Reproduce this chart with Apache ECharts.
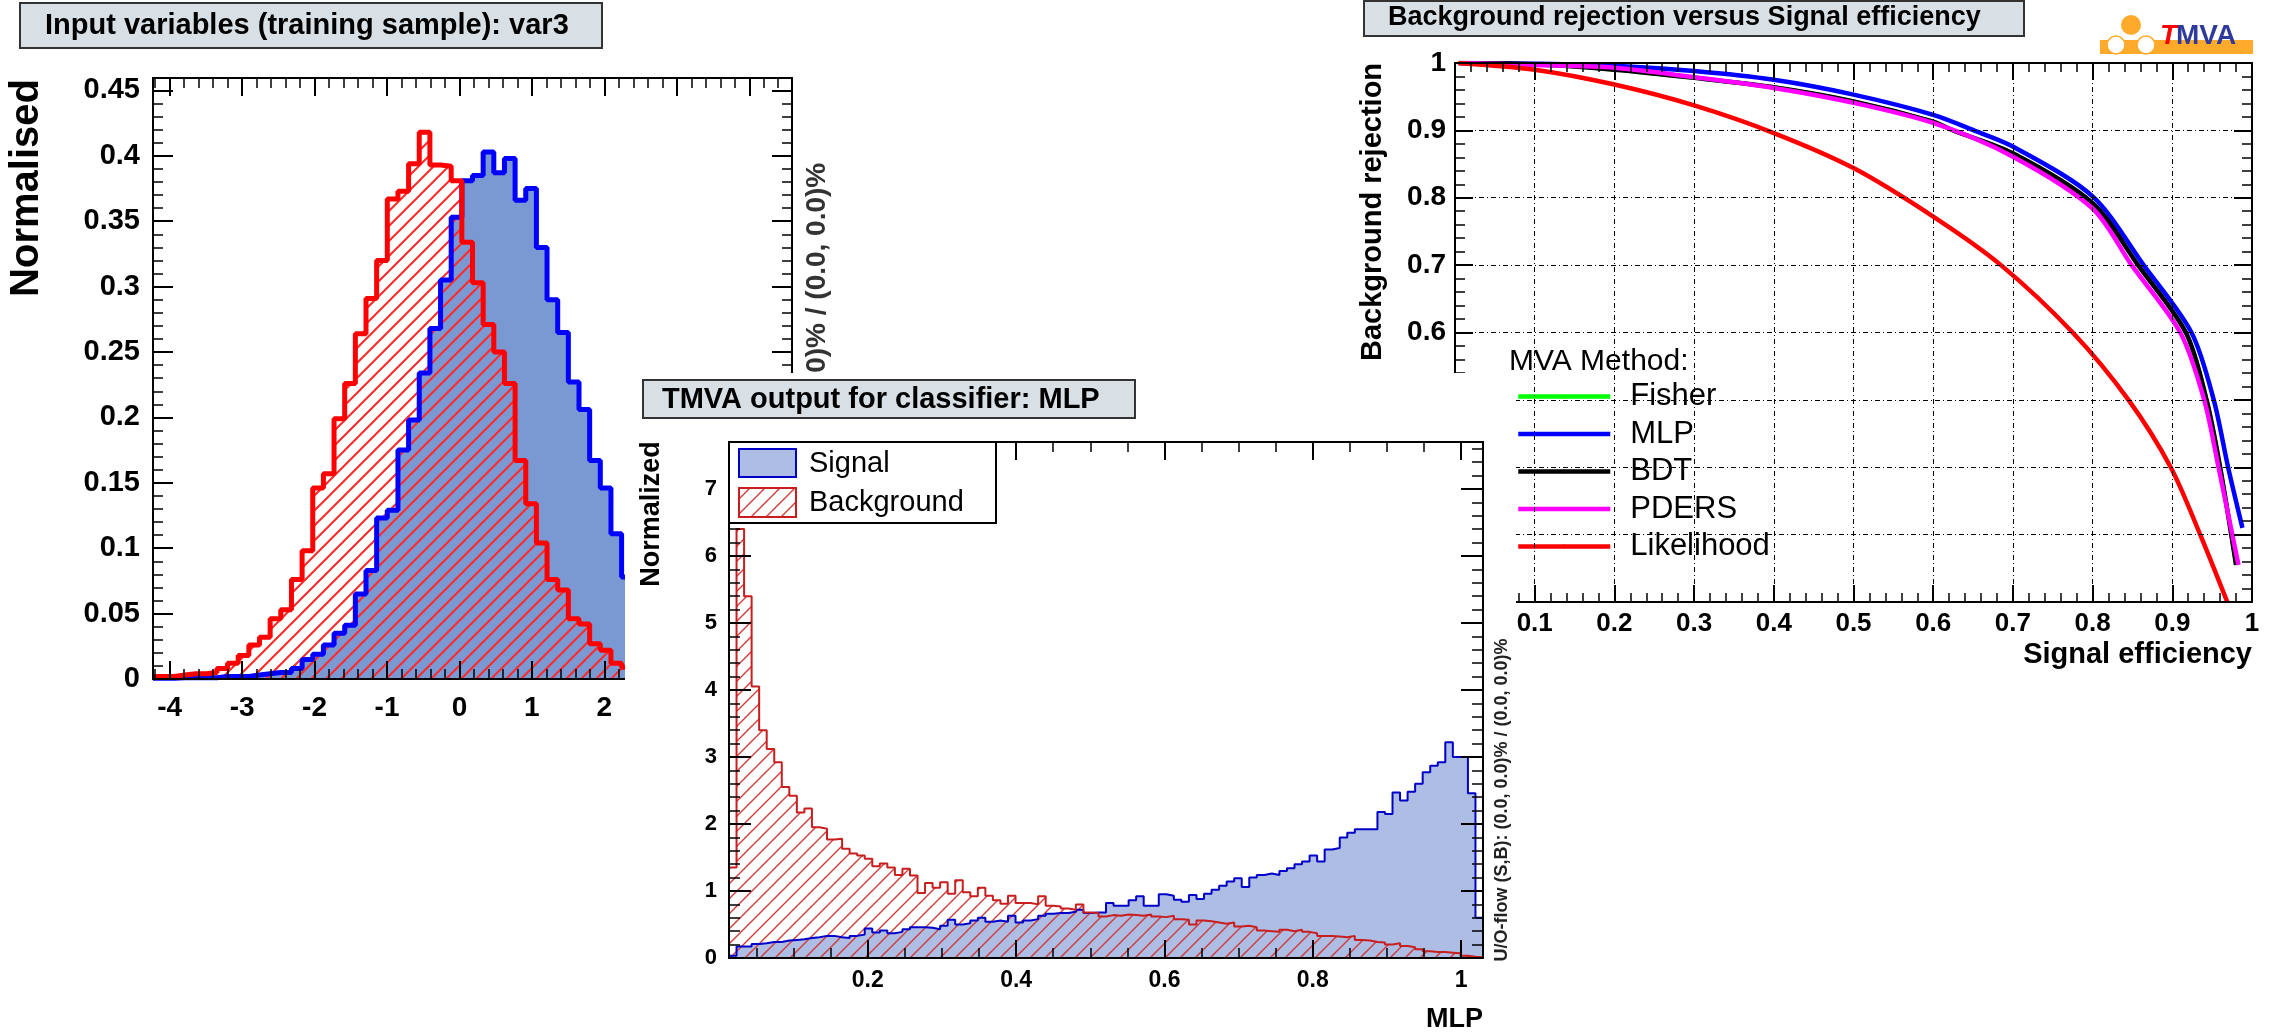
<!DOCTYPE html>
<html>
<head>
<meta charset="utf-8">
<script src="https://cdn.jsdelivr.net/npm/echarts@6/dist/echarts.min.js"></script>
<style>
  html, body { margin: 0; padding: 0; background: #fff; }
  #main { position: absolute; left: 0; top: 0; width: 2272px; height: 1034px; }
  #mva { position: absolute; left: 625px; top: 373px; width: 891px; height: 661px; background: #fff; }
</style>
</head>
<body>
<div id="main"></div>
<div id="mva"></div>
<script>
  // ---------- data ----------
  // input variable var3 : 60 bins between -4.23 and 4.59
  var varRange = [-4.23, 4.59];
  var varSig = [0.0005, 0.0005, 0.001, 0.001, 0.001, 0.001, 0.002, 0.002, 0.002, 0.003,
    0.004, 0.005, 0.005, 0.008, 0.015, 0.019, 0.026, 0.035, 0.041, 0.065,
    0.083, 0.123, 0.129, 0.175, 0.198, 0.234, 0.268, 0.305, 0.353, 0.381,
    0.385, 0.403, 0.387, 0.398, 0.366, 0.375, 0.330, 0.290, 0.265, 0.227,
    0.206, 0.167, 0.146, 0.111, 0.078, 0.060, 0.045, 0.032, 0.022, 0.015,
    0.010, 0.006, 0.004, 0.003, 0.002, 0.001, 0.001, 0.0005, 0.0005, 0];
  var varBkg = [0.002, 0.002, 0.003, 0.004, 0.004, 0.005, 0.008, 0.012, 0.018, 0.026,
    0.032, 0.046, 0.053, 0.076, 0.098, 0.146, 0.157, 0.199, 0.226, 0.264,
    0.291, 0.320, 0.367, 0.373, 0.394, 0.418, 0.393, 0.392, 0.381, 0.334,
    0.303, 0.271, 0.250, 0.226, 0.167, 0.134, 0.104, 0.076, 0.068, 0.046,
    0.042, 0.027, 0.022, 0.012, 0.009, 0.006, 0.004, 0.003, 0.002, 0.001,
    0.001, 0.001, 0, 0, 0, 0, 0, 0, 0, 0];

  // MLP output : 100 bins between 0.0128 and 1.0296
  var mlpRange = [0.0128, 1.0296];
  var mlpSig = [0.035, 0.17, 0.17, 0.21, 0.22, 0.24, 0.24, 0.26, 0.27, 0.28,
    0.30, 0.31, 0.33, 0.33, 0.31, 0.30, 0.33, 0.35, 0.44, 0.38,
    0.41, 0.37, 0.39, 0.43, 0.46, 0.46, 0.45, 0.43, 0.48, 0.57,
    0.50, 0.52, 0.56, 0.60, 0.54, 0.56, 0.54, 0.63, 0.53, 0.56,
    0.58, 0.63, 0.66, 0.67, 0.67, 0.69, 0.72, 0.67, 0.68, 0.68,
    0.82, 0.78, 0.78, 0.86, 0.92, 0.78, 0.78, 0.95, 0.93, 0.87,
    0.84, 0.94, 0.88, 0.96, 1.02, 1.08, 1.14, 1.19, 1.06, 1.20,
    1.24, 1.26, 1.24, 1.30, 1.34, 1.40, 1.44, 1.53, 1.44, 1.62,
    1.64, 1.80, 1.87, 1.92, 1.92, 1.92, 2.18, 2.15, 2.47, 2.35,
    2.48, 2.60, 2.77, 2.87, 2.92, 3.22, 3.00, 3.00, 2.46, 0.60];
  var mlpBkg = [1.35, 6.40, 5.40, 4.05, 3.40, 3.12, 2.92, 2.55, 2.42, 2.17,
    2.23, 1.95, 1.93, 1.77, 1.78, 1.63, 1.56, 1.53, 1.48, 1.37,
    1.41, 1.35, 1.24, 1.33, 1.23, 0.97, 1.12, 1.05, 1.13, 0.96,
    1.16, 0.98, 0.92, 1.05, 0.93, 0.86, 0.81, 0.93, 0.82, 0.82,
    0.80, 0.92, 0.78, 0.77, 0.74, 0.72, 0.80, 0.68, 0.67, 0.62,
    0.64, 0.63, 0.65, 0.64, 0.63, 0.65, 0.62, 0.61, 0.63, 0.58,
    0.57, 0.50, 0.56, 0.55, 0.53, 0.51, 0.53, 0.47, 0.48, 0.46,
    0.41, 0.40, 0.39, 0.42, 0.40, 0.42, 0.39, 0.37, 0.33, 0.33,
    0.32, 0.31, 0.33, 0.27, 0.26, 0.24, 0.23, 0.20, 0.22, 0.18,
    0.16, 0.13, 0.10, 0.09, 0.09, 0.08, 0.07, 0.035, 0.02, 0.01];

  // ROC curves (signal efficiency, background rejection)
  var methods = ['Fisher', 'MLP', 'BDT', 'PDERS', 'Likelihood'];
  var methodColors = ['#00ff00', '#0000ff', '#000000', '#ff00ff', '#ff0000'];
  var fisherEff = [0.005, 0.1, 0.2, 0.3, 0.4, 0.5, 0.6, 0.625, 0.7, 0.8, 0.857, 0.917, 0.943, 0.960, 0.980];
  var fisherRej = [1.0, 0.998, 0.990, 0.978, 0.964, 0.943, 0.913, 0.9, 0.866, 0.792, 0.7, 0.6, 0.5, 0.4, 0.255];
  var mlpEff = [0.005, 0.1, 0.2, 0.3, 0.4, 0.5, 0.6, 0.651, 0.7, 0.8, 0.864, 0.924, 0.952, 0.970, 0.988];
  var mlpRej = [1.0, 0.999, 0.996, 0.988, 0.975, 0.953, 0.923, 0.9, 0.876, 0.802, 0.7, 0.6, 0.5, 0.4, 0.31];
  var bdtEff = [0.005, 0.1, 0.2, 0.3, 0.4, 0.5, 0.6, 0.625, 0.7, 0.8, 0.857, 0.917, 0.943, 0.960, 0.980];
  var bdtRej = [1.0, 0.998, 0.990, 0.978, 0.964, 0.943, 0.913, 0.9, 0.866, 0.792, 0.7, 0.6, 0.5, 0.4, 0.255];
  var pdersEff = [0.005, 0.1, 0.2, 0.3, 0.4, 0.5, 0.6, 0.7, 0.8, 0.849, 0.910, 0.940, 0.958, 0.983];
  var pdersRej = [1.0, 0.997, 0.993, 0.979, 0.963, 0.941, 0.911, 0.861, 0.784, 0.7, 0.6, 0.5, 0.4, 0.255];
  var likeEff = [0.004, 0.1, 0.2, 0.3, 0.4, 0.5, 0.6, 0.685, 0.775, 0.845, 0.898, 0.935, 0.969];
  var likeRej = [1.0, 0.990, 0.968, 0.937, 0.896, 0.844, 0.772, 0.7, 0.6, 0.5, 0.4, 0.3, 0.2];

  // ---------- helpers ----------
  var FONT = '"Liberation Sans", Arial, Helvetica, sans-serif';

  // histogram as step line: one point per bin edge
  function stepData(range, vals) {
    var w = (range[1] - range[0]) / vals.length;
    var pts = [];
    for (var i = 0; i < vals.length; i++) pts.push([range[0] + i * w, vals[i]]);
    pts.push([range[1], vals[vals.length - 1]]);
    return pts;
  }
  function zip(a, b) {
    return a.map(function (v, i) { return [v, b[i]]; });
  }
  // ROOT style "///" hatch
  function hatch(color, width, size) {
    var c = document.createElement('canvas');
    c.width = size; c.height = size;
    var ctx = c.getContext('2d');
    ctx.strokeStyle = color; ctx.lineWidth = width;
    ctx.beginPath();
    ctx.moveTo(-1, size + 1); ctx.lineTo(size + 1, -1);
    ctx.moveTo(-2, 2); ctx.lineTo(2, -2);
    ctx.moveTo(size - 2, size + 2); ctx.lineTo(size + 2, size - 2);
    ctx.stroke();
    return { image: c, repeat: 'repeat' };
  }
  // frame axis with inner ticks (ROOT look)
  function axis(gridIndex, position, min, max, split, minorSplit, tickLen, minorLen, label, grid) {
    var a = {
      type: 'value', gridIndex: gridIndex, position: position,
      min: min, max: max, splitNumber: split, z: 5,
      axisLine: { show: true, onZero: false, lineStyle: { color: '#000', width: 2 } },
      axisTick: { show: true, inside: true, length: tickLen, lineStyle: { color: '#000', width: 2 } },
      minorTick: { show: true, splitNumber: minorSplit, length: minorLen, lineStyle: { color: '#000', width: 1.5 } },
      axisLabel: { show: false },
      splitLine: { show: false }
    };
    if (label) {
      a.axisLabel = Object.assign({
        show: true, color: '#000', fontFamily: FONT, fontWeight: 'bold'
      }, label);
    }
    if (grid) {
      a.splitLine = { show: true, lineStyle: { color: '#000', width: 1, type: [5, 3, 1, 3] } };
    }
    return a;
  }
  function txt(x, y, text, size, opt) {
    opt = opt || {};
    return {
      type: 'text', x: x, y: y, z: 100, rotation: opt.rot || 0,
      style: {
        text: text, fill: opt.color || '#000', align: opt.align || 'left', verticalAlign: 'middle',
        font: (opt.weight || 'bold') + ' ' + size + 'px ' + FONT
      }
    };
  }
  function titleBox(x, y, w, h) {
    return { type: 'rect', z: 99, shape: { x: x, y: y, width: w, height: h },
      style: { fill: '#d8e0e6', stroke: '#333', lineWidth: 2 } };
  }

  // ---------- left + right panels ----------
  var myChart = echarts.init(document.getElementById('main'), null, { renderer: 'canvas' });

  var rocSeries = [
    zip(fisherEff, fisherRej), zip(mlpEff, mlpRej), zip(bdtEff, bdtRej),
    zip(pdersEff, pdersRej), zip(likeEff, likeRej)
  ].map(function (d, i) {
    return {
      name: methods[i], type: 'line', xAxisIndex: 2, yAxisIndex: 2,
      data: d, symbol: 'none', smooth: 0.3,
      lineStyle: { color: methodColors[i], width: i === 0 ? 4 : 4.5 },
      itemStyle: { color: methodColors[i] }, z: 3
    };
  });

  var option = {
    animation: false,
    grid: [
      { left: 153, top: 78, width: 639, height: 601, outerBoundsMode: 'none' },
      { left: 1455, top: 63, width: 797, height: 539, outerBoundsMode: 'none' }
    ],
    xAxis: [
      axis(0, 'bottom', varRange[0], varRange[1], 9, 5, 18, 10,
        { fontSize: 28, margin: 15, showMinLabel: false, showMaxLabel: false }),
      axis(0, 'top', varRange[0], varRange[1], 9, 5, 18, 10),
      axis(1, 'bottom', 0, 1, 10, 5, 17, 9,
        { fontSize: 26, margin: 9, showMinLabel: false }, true),
      axis(1, 'top', 0, 1, 10, 5, 17, 9)
    ],
    yAxis: [
      axis(0, 'left', 0, 0.4595, 9, 5, 20, 10,
        { fontSize: 29, margin: 13, showMaxLabel: false }),
      axis(0, 'right', 0, 0.4595, 9, 5, 20, 10),
      axis(1, 'left', 0.2, 1, 8, 5, 18, 10,
        { fontSize: 28, margin: 9, showMinLabel: false }, true),
      axis(1, 'right', 0.2, 1, 8, 5, 18, 10)
    ],
    legend: {
      data: methods, orient: 'vertical', left: 1516, top: 381,
      itemWidth: 92, itemHeight: 5, itemGap: 6.5, padding: 0, selectedMode: false,
      lineStyle: { width: 4.5 },
      textStyle: { fontFamily: FONT, fontSize: 31, lineHeight: 31, color: '#000', padding: [0, 0, 0, 15] }
    },
    series: [
      {
        name: 'Signal', type: 'line', xAxisIndex: 0, yAxisIndex: 0, step: 'end', symbol: 'none',
        data: stepData(varRange, varSig),
        lineStyle: { color: '#0000ff', width: 5 },
        areaStyle: { color: '#7a98d2', opacity: 1 }, z: 2
      },
      {
        name: 'Background', type: 'line', xAxisIndex: 0, yAxisIndex: 0, step: 'end', symbol: 'none',
        data: stepData(varRange, varBkg),
        lineStyle: { color: '#ff0000', width: 5 },
        areaStyle: { color: hatch('#ff2a2a', 2, 15), opacity: 1 }, z: 2
      }
    ].concat(rocSeries),
    graphic: [
      titleBox(20, 3, 582, 45),
      txt(45, 26, 'Input variables (training sample): var3', 29),
      txt(27, 188, 'Normalised', 40, { rot: Math.PI / 2, align: 'center' }),
      txt(817, 414, 'U/O-flow (S,B): (0.0, 0.0)% / (0.0, 0.0)%', 28, { rot: Math.PI / 2, align: 'center', color: '#333' }),
      titleBox(1364, 1, 660, 35),
      txt(1388, 18, 'Background rejection versus Signal efficiency', 27),
      txt(1373, 212, 'Background rejection', 29, { rot: Math.PI / 2, align: 'center' }),
      txt(2252, 655, 'Signal efficiency', 29, { align: 'right' }),
      txt(1509, 362, 'MVA Method:', 30, { weight: 'normal' }),
      // TMVA logo
      { type: 'rect', z: 98, shape: { x: 2100, y: 40, width: 153, height: 14 }, style: { fill: '#ffaa2a' } },
      { type: 'circle', z: 99, shape: { cx: 2131, cy: 25, r: 10 }, style: { fill: '#ffaa2a' } },
      { type: 'circle', z: 99, shape: { cx: 2116, cy: 45, r: 9 }, style: { fill: '#fff', stroke: '#ffaa2a', lineWidth: 1.5 } },
      { type: 'circle', z: 99, shape: { cx: 2146, cy: 45, r: 9 }, style: { fill: '#fff', stroke: '#ffaa2a', lineWidth: 1.5 } },
      { type: 'text', z: 100, x: 2160, y: 36, style: { text: 'T', fill: '#ff0000', verticalAlign: 'middle', font: 'italic bold 28px ' + FONT } },
      { type: 'text', z: 100, x: 2176, y: 36, style: { text: 'MVA', fill: '#303a9a', verticalAlign: 'middle', font: 'bold 28px ' + FONT } }
    ]
  };
  myChart.setOption(option);

  // ---------- middle panel (drawn on top, white canvas) ----------
  var mvaChart = echarts.init(document.getElementById('mva'), null, { renderer: 'canvas' });
  var bkgHatch = hatch('#d03a3a', 1.4, 15);
  var option2 = {
    animation: false,
    grid: { left: 104, top: 69, width: 754, height: 516, outerBoundsMode: 'none' },
    xAxis: [
      axis(0, 'bottom', mlpRange[0], mlpRange[1], 5, 4, 18, 10,
        { fontSize: 23, margin: 11, showMinLabel: false, showMaxLabel: false }),
      axis(0, 'top', mlpRange[0], mlpRange[1], 5, 4, 18, 10)
    ],
    yAxis: [
      axis(0, 'left', 0, 7.7, 8, 5, 22, 11, { fontSize: 22, margin: 12, showMaxLabel: false }),
      axis(0, 'right', 0, 7.7, 8, 5, 22, 11)
    ],
    series: [
      {
        name: 'Signal', type: 'line', step: 'end', symbol: 'none',
        data: stepData(mlpRange, mlpSig),
        lineStyle: { color: '#0000c8', width: 2 },
        areaStyle: { color: '#adbde3', opacity: 1 }, z: 2
      },
      {
        name: 'Background', type: 'line', step: 'end', symbol: 'none',
        data: stepData(mlpRange, mlpBkg),
        lineStyle: { color: '#c81e1e', width: 2 },
        areaStyle: { color: bkgHatch, opacity: 1 }, z: 2
      }
    ],
    graphic: [
      titleBox(18, 7, 492, 38),
      txt(37, 27, 'TMVA output for classifier: MLP', 29),
      txt(27, 141, 'Normalized', 27, { rot: Math.PI / 2, align: 'center' }),
      txt(858, 647, 'MLP', 27, { align: 'right' }),
      txt(877, 427, 'U/O-flow (S,B): (0.0, 0.0)% / (0.0, 0.0)%', 18, { rot: Math.PI / 2, align: 'center', color: '#222' }),
      // legend box
      { type: 'rect', z: 98, shape: { x: 104, y: 69, width: 267, height: 81 }, style: { fill: '#fff', stroke: '#000', lineWidth: 2 } },
      { type: 'rect', z: 99, shape: { x: 114, y: 76, width: 57, height: 28 }, style: { fill: '#adbde3', stroke: '#0000c8', lineWidth: 2 } },
      txt(184, 91, 'Signal', 29, { weight: 'normal' }),
      { type: 'rect', z: 99, shape: { x: 114, y: 115, width: 57, height: 29 }, style: { fill: bkgHatch, stroke: '#c81e1e', lineWidth: 2 } },
      txt(184, 130, 'Background', 29, { weight: 'normal' })
    ]
  };
  mvaChart.setOption(option2);
</script>
</body>
</html>
